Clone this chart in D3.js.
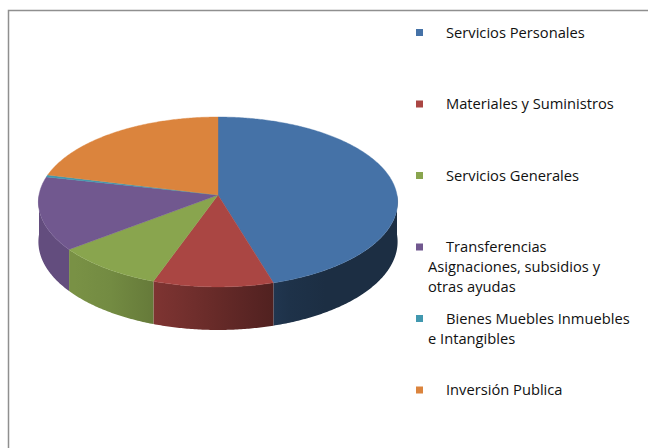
<!DOCTYPE html>
<html>
<head>
<meta charset="utf-8">
<script src="https://cdn.jsdelivr.net/npm/d3@7"></script>
<style>
    body { margin: 0; background: #fff; }
    svg { display: block; }
    .legend text { font-family: "Open Sans", sans-serif; font-size: 14.7px; fill: #111; }
</style>
</head>
<body>
<svg id="chart" width="648" height="448"></svg>
<script>
// Slice data (percent of budget)
const categories = ['Servicios Personales', 'Materiales y Suministros', 'Servicios Generales',
    'Transferencias Asignaciones, subsidios y otras ayudas', 'Bienes Muebles Inmuebles e Intangibles', 'Inversión Publica'];
const values = [45.4, 10.0, 9.1, 14.0, 0.4, 21.1];
const colors = ['#4572A7', '#AA4643', '#89A54E', '#71588F', '#4198AF', '#DB843D'];
// Legend labels as they wrap in the picture
const legendLines = [
    ['Servicios Personales'],
    ['Materiales y Suministros'],
    ['Servicios Generales'],
    ['Transferencias', 'Asignaciones, subsidios y', 'otras ayudas'],
    ['Bienes Muebles Inmuebles', 'e Intangibles'],
    ['Inversión Publica'],
];

const svg = d3.select('#chart');

// Chart area frame (only top and left edges are in view)
svg.append('path')
  .attr('d', 'M8.5,448 V10.5 H648')
  .attr('fill', 'none')
  .attr('stroke', '#8f8f8f')
  .attr('stroke-width', 1.5);

// 3D pie geometry
const cx = 218, cy = 195, rx = 179, ry = 84.4, persp = 0.082, depth = 39.5;

// Project a point on the disk (angle clockwise from 12 o'clock) to the screen
function proj(theta, dz = 0) {
    const u = Math.sin(theta);
    const v = -Math.cos(theta);
    const p = 1 / (1 - persp * v);
    return [cx + rx * u * p, cy + ry * v * p + dz * p];
}

function arcPoints(a0, a1, dz) {
    const n = Math.max(2, Math.ceil((a1 - a0) / 0.01));
    return d3.range(n + 1).map((i) => proj(a0 + (a1 - a0) * i / n, dz));
}

const pie = d3.pie().sort(null).startAngle(0).endAngle(2 * Math.PI);
const arcs = pie(values);
const line = d3.line();

// Side shading: lighter on the left, dark on the right
const shade = (u) => Math.max(0.4, Math.min(0.88, 0.6 - 0.4 * u));
const defs = svg.append('defs');
colors.forEach((c, i) => {
    const g = defs.append('linearGradient')
      .attr('id', `side${i}`)
      .attr('gradientUnits', 'userSpaceOnUse')
      .attr('x1', cx - rx).attr('x2', cx + rx)
      .attr('y1', 0).attr('y2', 0);
    d3.range(0, 1.0001, 0.1).forEach((t) => {
        const f = shade(t * 2 - 1);
        const col = d3.rgb(c);
        g.append('stop')
          .attr('offset', t)
          .attr('stop-color', d3.rgb(col.r * f, col.g * f, col.b * f).formatHex());
    });
});

const pieG = svg.append('g');

// Front walls (only the near half of the rim is visible)
arcs.forEach((d, i) => {
    const a0 = Math.max(d.startAngle, Math.PI / 2);
    const a1 = Math.min(d.endAngle, 3 * Math.PI / 2);
    if (a1 <= a0) return;
    const top = arcPoints(a0, a1, 0);
    const bottom = arcPoints(a0, a1, depth).reverse();
    pieG.append('path')
      .attr('d', `${line(top.concat(bottom))}Z`)
      .attr('fill', `url(#side${i})`);
});

// Top faces
arcs.forEach((d, i) => {
    const pts = [[cx, cy]].concat(arcPoints(d.startAngle, d.endAngle, 0));
    pieG.append('path')
      .attr('d', `${line(pts)}Z`)
      .attr('fill', colors[i])
      .attr('stroke', colors[i])
      .attr('stroke-width', 0.4);
});

// Legend
const yScale = d3.scalePoint().domain(categories).range([32.5, 390]);
const legend = svg.append('g').attr('class', 'legend');
categories.forEach((cat, i) => {
    const y = yScale(cat);
    legend.append('rect')
      .attr('x', 416).attr('y', y - 3.5)
      .attr('width', 7).attr('height', 7)
      .attr('fill', colors[i]);
    legendLines[i].forEach((txt, j) => {
        legend.append('text')
          .attr('x', j === 0 ? 446 : 428)
          .attr('y', y + 5 + j * 20)
          .text(txt);
    });
});
</script>
</body>
</html>
